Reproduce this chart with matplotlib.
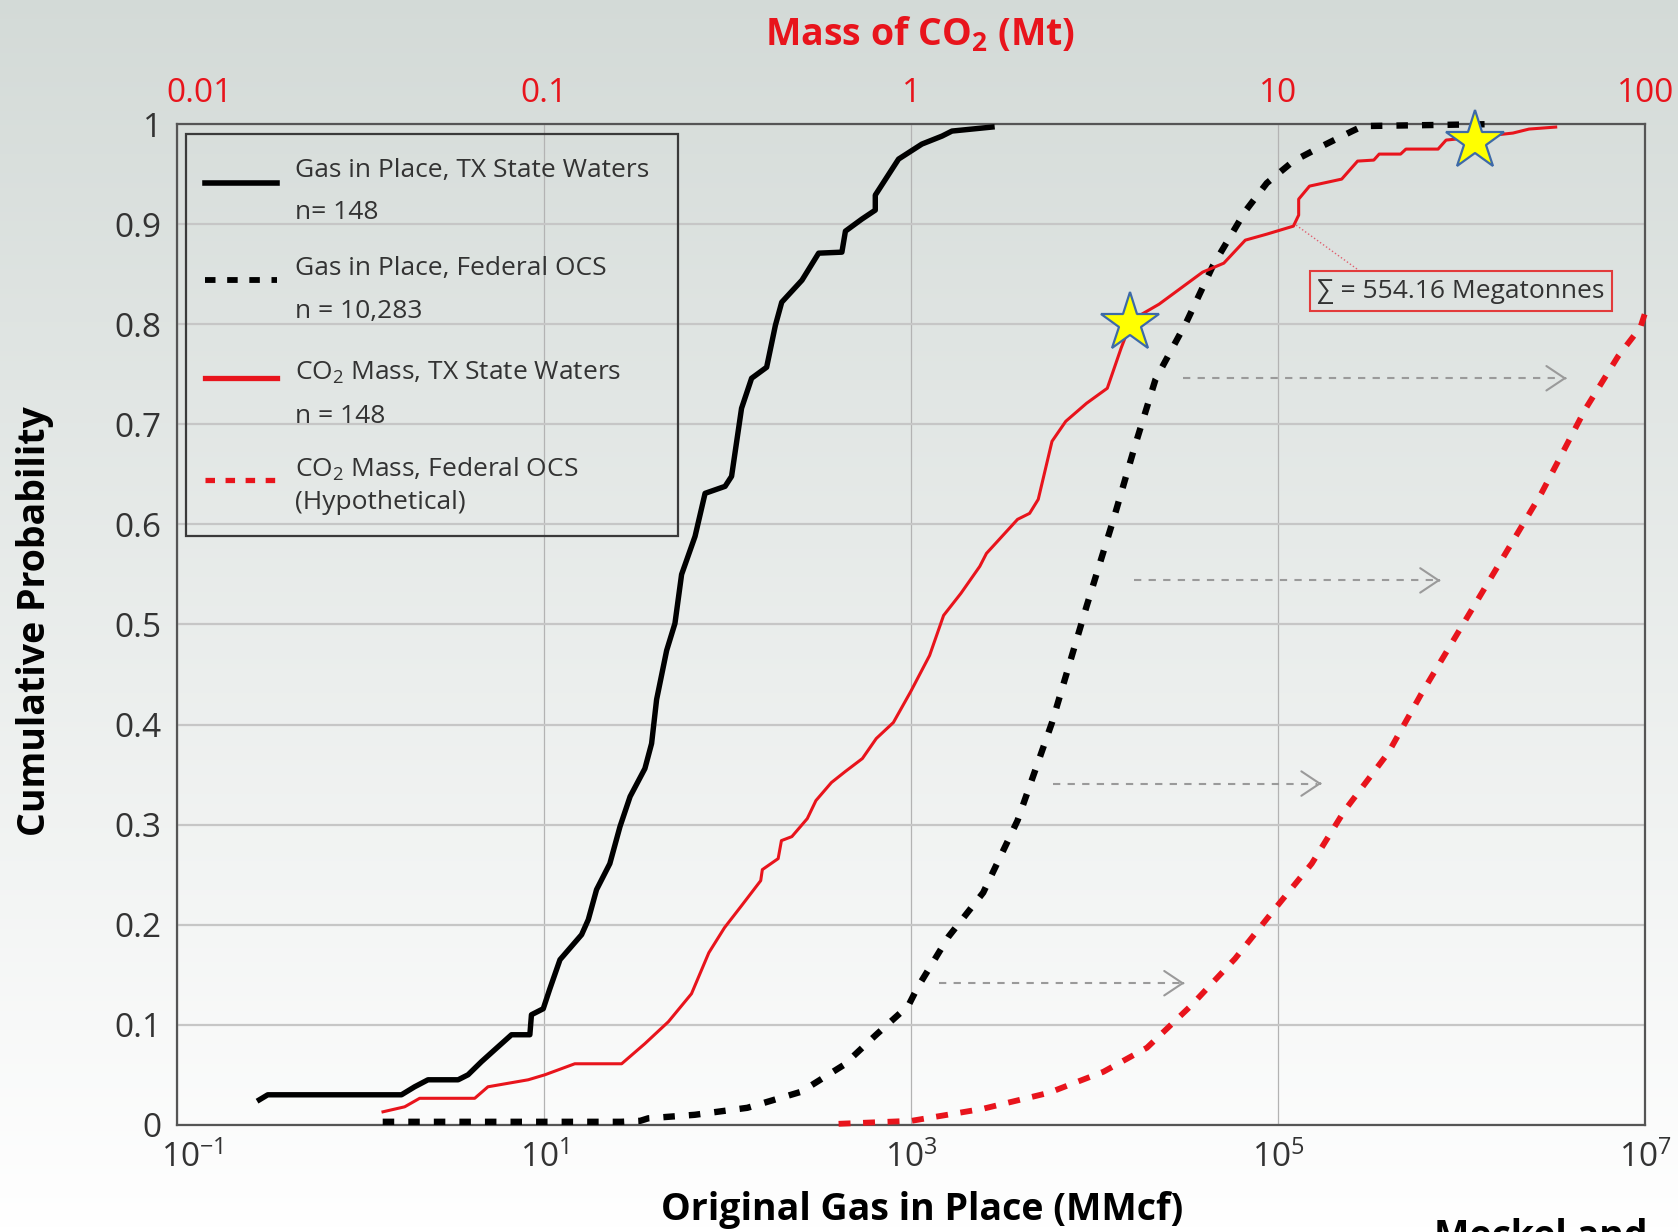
import numpy as np
import matplotlib
matplotlib.use("Agg")
import matplotlib.pyplot as plt
from matplotlib.patches import Rectangle
from matplotlib.lines import Line2D
from matplotlib.ticker import NullLocator
from matplotlib.transforms import ScaledTranslation

plt.rcParams['font.family'] = ['Open Sans', 'DejaVu Sans']
plt.rcParams['mathtext.fontset'] = 'custom'
plt.rcParams['mathtext.rm'] = 'Open Sans'
plt.rcParams['mathtext.default'] = 'regular'

# ---- values ----
# gas in place, TX state waters (MMcf) vs cumulative probability
gip_tx = [0.281, 0.312, 1.67, 1.97, 2.33, 3.40, 3.85, 4.55, 5.38, 6.64,
          8.36, 8.53, 9.89, 10.7, 12.2, 16.0, 17.4, 19.3, 22.8, 25.9,
          29.4, 35.4, 38.5, 41.0, 46.5, 51.6, 56.1, 66.4, 75.3, 96.8,
          105, 119, 135, 163, 182, 197, 254, 313, 419, 438,
          538, 637, 637, 853, 1143, 1472, 1667, 2754]
cdf_gip_tx = [0.025, 0.030, 0.030, 0.038, 0.045, 0.045, 0.050, 0.063, 0.075, 0.090,
              0.090, 0.110, 0.116, 0.135, 0.165, 0.190, 0.205, 0.235, 0.261, 0.298,
              0.328, 0.356, 0.381, 0.425, 0.474, 0.501, 0.550, 0.588, 0.631, 0.638,
              0.648, 0.716, 0.746, 0.757, 0.799, 0.822, 0.844, 0.871, 0.872, 0.893,
              0.905, 0.914, 0.929, 0.965, 0.980, 0.988, 0.993, 0.997]

# gas in place, federal OCS (MMcf)
gip_ocs = [1.32, 26.3, 33.4, 36.9, 66.1, 128, 251, 431, 644, 964,
           1081, 1596, 2466, 3793, 5848, 9016, 12735, 16520, 21430, 31550,
           44160, 66070, 86500, 120800, 169000, 252900, 289100, 1549000]
cdf_gip_ocs = [0.003, 0.003, 0.004, 0.0065, 0.010, 0.017, 0.033, 0.060, 0.090, 0.119,
               0.137, 0.188, 0.232, 0.304, 0.402, 0.518, 0.607, 0.678, 0.745, 0.802,
               0.859, 0.913, 0.941, 0.963, 0.977, 0.993, 0.998, 1.0]

# CO2 mass, TX state waters (Mt)
co2_tx = [0.0364, 0.0417, 0.0458, 0.0647, 0.0703, 0.0905, 0.1005, 0.1212, 0.1626, 0.188,
          0.218, 0.252, 0.281, 0.310, 0.345, 0.389, 0.393, 0.434, 0.443, 0.473,
          0.521, 0.550, 0.606, 0.661, 0.736, 0.803, 0.894, 0.997, 1.122, 1.225,
          1.365, 1.537, 1.603, 1.948, 2.101, 2.218, 2.418, 2.636, 3.003, 3.420,
          3.729, 3.895, 4.155, 4.732, 6.217, 7.103, 8.128, 9.301, 10.99, 11.36,
          11.36, 12.16, 14.88, 16.44, 18.20, 18.82, 21.53, 22.26, 27.23, 28.64,
          35.65, 43.55, 48.19, 56.95]
cdf_co2_tx = [0.013, 0.018, 0.0265, 0.0265, 0.038, 0.045, 0.050, 0.061, 0.061, 0.081,
              0.103, 0.131, 0.172, 0.197, 0.219, 0.244, 0.255, 0.266, 0.284, 0.288,
              0.306, 0.324, 0.342, 0.353, 0.366, 0.386, 0.402, 0.433, 0.469, 0.509,
              0.531, 0.558, 0.571, 0.605, 0.611, 0.625, 0.683, 0.703, 0.721, 0.736,
              0.776, 0.794, 0.808, 0.820, 0.852, 0.861, 0.884, 0.890, 0.898, 0.909,
              0.925, 0.938, 0.945, 0.963, 0.964, 0.970, 0.970, 0.975, 0.975, 0.984,
              0.9875, 0.991, 0.995, 0.997]

# CO2 mass, federal OCS, hypothetical (Mt)
co2_ocs = [0.634, 1.002, 1.567, 2.370, 3.338, 4.385, 5.781, 7.621, 9.694, 12.33,
           15.15, 19.95, 24.46, 31.11, 39.45, 52.06, 68.55, 84.24, 96.94, 99.5]
cdf_co2_ocs = [0.001, 0.004, 0.016, 0.032, 0.053, 0.077, 0.119, 0.166, 0.214, 0.261,
               0.314, 0.372, 0.430, 0.494, 0.557, 0.631, 0.715, 0.768, 0.797, 0.810]

# grey "converted to" arrows (MMcf)
arrow_p = [0.746, 0.544, 0.341, 0.1415]
arrow_start = [30200, 16260, 5930, 1419]
arrow_end = [3.72e6, 7.64e5, 1.72e5, 3.08e4]

# highlighted fields (Mt)
star_mass = [3.95, 34.4]
star_p = [0.801, 0.983]

total_text = "\u2211 = 554.16 Megatonnes"

x_ticks = [1e-1, 1e1, 1e3, 1e5, 1e7]
x_tick_labels = ["$10^{-1}$", "$10^{1}$", "$10^{3}$", "$10^{5}$", "$10^{7}$"]
mass_ticks = [0.01, 0.1, 1, 10, 100]
mass_tick_labels = ["0.01", "0.1", "1", "10", "100"]
y_ticks = [0, 0.1, 0.2, 0.3, 0.4, 0.5, 0.6, 0.7, 0.8, 0.9, 1.0]
y_tick_labels = ["0", "0.1", "0.2", "0.3", "0.4", "0.5", "0.6", "0.7", "0.8", "0.9", "1"]

legend_rows = [("Gas in Place, TX State Waters", "n= 148"),
               ("Gas in Place, Federal OCS", "n = 10,283"),
               ("CO$_2$ Mass, TX State Waters", "n = 148"),
               ("CO$_2$ Mass, Federal OCS", "(Hypothetical)")]

RED = '#e8141c'
TXT = '#333333'

fig = plt.figure(figsize=(16.78, 12.32), dpi=100)

# slide background: grey at the top fading to white
bg = fig.add_axes([0, 0, 1, 1], zorder=-5)
shade = np.linspace(0, 1, 256)[:, None, None]
top_col = np.array([0.830, 0.857, 0.845])
bg.imshow(top_col + (1 - top_col) * shade, aspect='auto', extent=[0, 1, 0, 1])
bg.axis('off')

ax = fig.add_axes([0.1055, 0.0870, 0.8751, 0.8123])
ax.set_facecolor('none')
ax.set_xscale('log')
ax.set_xlim(1e-1, 1e7)
ax.set_ylim(0, 1)
ax.set_xticks(x_ticks, x_tick_labels)
ax.xaxis.set_minor_locator(NullLocator())
ax.set_yticks(y_ticks, y_tick_labels)
ax.tick_params(length=0, labelsize=24, labelcolor=TXT)
ax.tick_params(axis='y', pad=11)
ax.tick_params(axis='x', pad=12)
ax.grid(axis='y', color='#c6c6c6', lw=1.6)
ax.grid(axis='x', color='#b3b3b3', lw=0.9)
for s in ax.spines.values():
    s.set_color('#555555')
    s.set_linewidth(1.6)

ax_top = ax.twiny()
ax_top.set_facecolor('none')
ax_top.set_xscale('log')
ax_top.set_xlim(0.01, 100)
ax_top.set_xticks(mass_ticks, mass_tick_labels)
ax_top.xaxis.set_minor_locator(NullLocator())
ax_top.tick_params(length=0, labelsize=24, labelcolor=RED, pad=10)
for s in ax_top.spines.values():
    s.set_visible(False)

# the first labels on both x axes sit a little right of their ticks
lab = ax.get_xticklabels()[0]
lab.set_transform(lab.get_transform() + ScaledTranslation(11 / 72, 0, fig.dpi_scale_trans))
lab = ax_top.get_xticklabels()[0]
lab.set_transform(lab.get_transform() + ScaledTranslation(16 / 72, 0, fig.dpi_scale_trans))

# curves
ax.plot(gip_tx, cdf_gip_tx, color='black', lw=3.9, solid_joinstyle='round', zorder=4)
ax.plot(gip_ocs, cdf_gip_ocs, color='black', lw=4.6, dashes=(1.8, 2.2), clip_on=False, zorder=4)
ax_top.plot(co2_tx, cdf_co2_tx, color=RED, lw=2.2, zorder=4)
ax_top.plot(co2_ocs, cdf_co2_ocs, color=RED, lw=4.2, dashes=(2.05, 2.15), clip_on=False, zorder=4)

for p, x0, x1 in zip(arrow_p, arrow_start, arrow_end):
    ax.plot([x0, x1 / 1.06], [p, p], color='#9a9a9a', lw=1.5, dashes=(3.5, 3.5), zorder=3)
    ax.annotate("", xy=(x1, p), xytext=(x1 / 1.02, p),
                arrowprops=dict(arrowstyle='->,head_length=0.6,head_width=0.4',
                                color='#9a9a9a', lw=1.5, shrinkA=0, shrinkB=0,
                                mutation_scale=22))

ax_top.plot(star_mass, star_p, linestyle='none', marker='*', ms=44,
            mfc='#ffff00', mec='#3d6aa8', mew=1.6, clip_on=False, zorder=6)

# summed mass callout
ax_top.plot([11.18, 16.4], [0.899, 0.855], color='#e06070', lw=1.0, ls=':', zorder=5)
ax_top.text(31.4, 0.833, total_text, fontsize=19, color=TXT, ha='center', va='center',
            bbox=dict(boxstyle='square,pad=0.28', fc='none', ec='#e23b3b', lw=1.5), zorder=5)

# legend drawn by hand so each sample sits between its two text lines
ax.add_patch(Rectangle((0.0061, 0.5883), 0.3351, 0.4017, transform=ax.transAxes,
                       fill=False, ec='#3a3a3a', lw=1.6, zorder=5))
handle_y = [0.941, 0.8437, 0.7467, 0.6439]
line_base = [(0.9474, 0.9055), (0.8491, 0.8063), (0.7449, 0.7010), (0.6475, 0.6154)]
handle_styles = [dict(color='black', lw=4.0),
                 dict(color='black', lw=4.2, dashes=(1.8, 2.0)),
                 dict(color=RED, lw=3.8),
                 dict(color=RED, lw=3.8, dashes=(1.8, 2.0))]
for (l1, l2), hy, (b1, b2), st in zip(legend_rows, handle_y, line_base, handle_styles):
    ax.add_line(Line2D([0.0191, 0.0681], [hy, hy], transform=ax.transAxes, zorder=5, **st))
    ax.text(0.0805, b1, l1, transform=ax.transAxes, fontsize=19, color=TXT, va='baseline')
    ax.text(0.0805, b2, l2, transform=ax.transAxes, fontsize=19, color=TXT, va='baseline')

fig.text(0.548, 0.9627, "Mass of CO$_2$ (Mt)", color=RED, fontsize=27, fontweight='bold',
         ha='center', va='baseline')
fig.text(0.5498, 0.0097, "Original Gas in Place (MMcf)", fontsize=27, fontweight='bold',
         ha='center', va='baseline')
fig.text(0.0209, 0.4962, "Cumulative Probability", fontsize=27, fontweight='bold',
         rotation=90, ha='center', va='center')
fig.text(0.8546, 0.0114, "Meckel and", fontsize=27, fontweight='bold', ha='left', va='top')

fig.savefig("out.png", dpi=100)
